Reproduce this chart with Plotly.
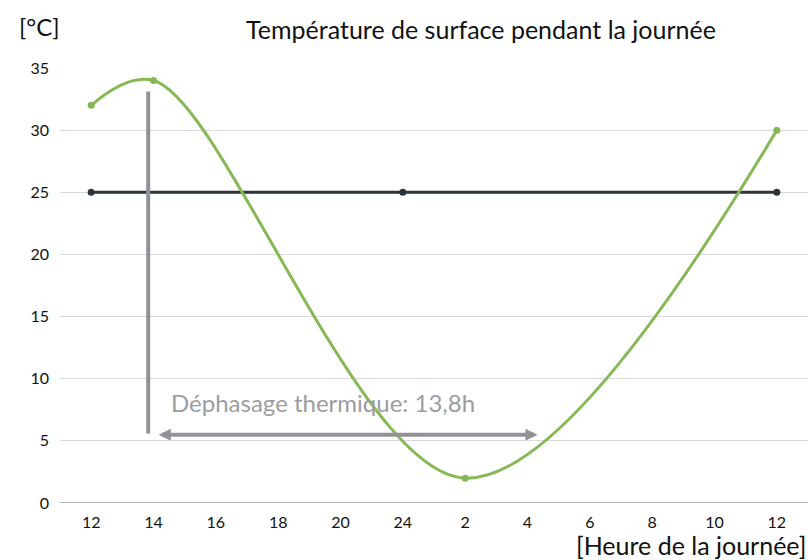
import plotly.graph_objects as go

tick_labels = ["12", "14", "16", "18", "20", "24", "2", "4", "6", "8", "10", "12"]
surface_idx = [0, 1, 6, 11]
surface_vals = [32, 34, 2, 30]
mean_idx = [0, 5, 11]
mean_vals = [25, 25, 25]
phase_text = "Déphasage thermique: 13,8h"

FONT = "Lato, 'Open Sans', sans-serif"
GREEN = "#86b956"
DARK = "#2c343a"
GRAY = "#909297"

W, H = 808, 560
L, R, T, B = 60, 0, 68, 57
PW, PH = W - L - R, H - T - B


def px(xw):  # window x -> paper fraction
    return (xw - L) / PW


def py(yw):  # window y -> paper fraction
    return (H - B - yw) / PH


fig = go.Figure()
fig.add_trace(go.Scatter(x=mean_idx, y=mean_vals, mode="lines+markers",
                         line=dict(color=DARK, width=3), marker=dict(size=7, color=DARK),
                         showlegend=False, hoverinfo="skip", cliponaxis=False))
fig.add_trace(go.Scatter(x=surface_idx, y=surface_vals, mode="lines+markers",
                         line=dict(color=GREEN, width=3, shape="spline", smoothing=1),
                         marker=dict(size=7, color=GREEN),
                         showlegend=False, hoverinfo="skip", cliponaxis=False))

# vertical gray marker line
fig.add_shape(type="line", x0=0.915, x1=0.915, y0=5.6, y1=33.1, xref="x", yref="y",
              line=dict(color=GRAY, width=4))
# double arrow
fig.add_annotation(x=7.16, y=5.5, ax=1.06, ay=5.5, xref="x", yref="y", axref="x", ayref="y",
                   showarrow=True, arrowhead=2, arrowside="end+start", arrowwidth=4,
                   arrowsize=0.6, arrowcolor=GRAY, text="")
fig.add_annotation(x=px(169), y=py(402), xref="paper", yref="paper", text=phase_text, showarrow=False,
                   xanchor="left", yanchor="middle", font=dict(family=FONT, size=24, color="#9b9da2"))

fig.update_layout(
    width=W, height=H,
    margin=dict(l=L, r=R, t=T, b=B),
    paper_bgcolor="white", plot_bgcolor="white",
    font=dict(family=FONT, size=16, color="#111"),
    title=dict(text="Température de surface pendant la journée", x=481 / W, xanchor="center",
               y=1 - 30 / H, yanchor="middle", font=dict(family=FONT, size=25, color="#111")),
    xaxis=dict(range=[-0.5, 11.5], tickmode="array", tickvals=list(range(12)), ticktext=tick_labels,
               showgrid=False, zeroline=False, showline=False, ticks="", ticklabelstandoff=8,
               tickfont=dict(family=FONT, size=16, color="#111")),
    yaxis=dict(range=[0, 35], tickvals=[0, 5, 10, 15, 20, 25, 30, 35], showgrid=True,
               gridcolor="#d9d9d9", gridwidth=1, zeroline=False, showline=False, ticks="",
               ticklabelstandoff=10, tickfont=dict(family=FONT, size=16, color="#111")),
    showlegend=False,
)
fig.add_shape(type="line", x0=0, x1=1, xref="paper", y0=0, y1=0, yref="y",
              line=dict(color="#b5b5b5", width=2), layer="below")
fig.add_annotation(x=px(17), y=py(27), xref="paper", yref="paper", text="[°C]", showarrow=False,
                   xanchor="left", yanchor="middle", font=dict(family=FONT, size=24, color="#111"))
fig.add_annotation(x=px(808), y=py(545), xref="paper", yref="paper", text="[Heure de la journée]",
                   showarrow=False, xanchor="right", yanchor="middle",
                   font=dict(family=FONT, size=25, color="#111"))

fig.write_html("out.html", config={"displayModeBar": False},
               post_script="document.body.style.margin='0';document.body.style.overflow='hidden';")
